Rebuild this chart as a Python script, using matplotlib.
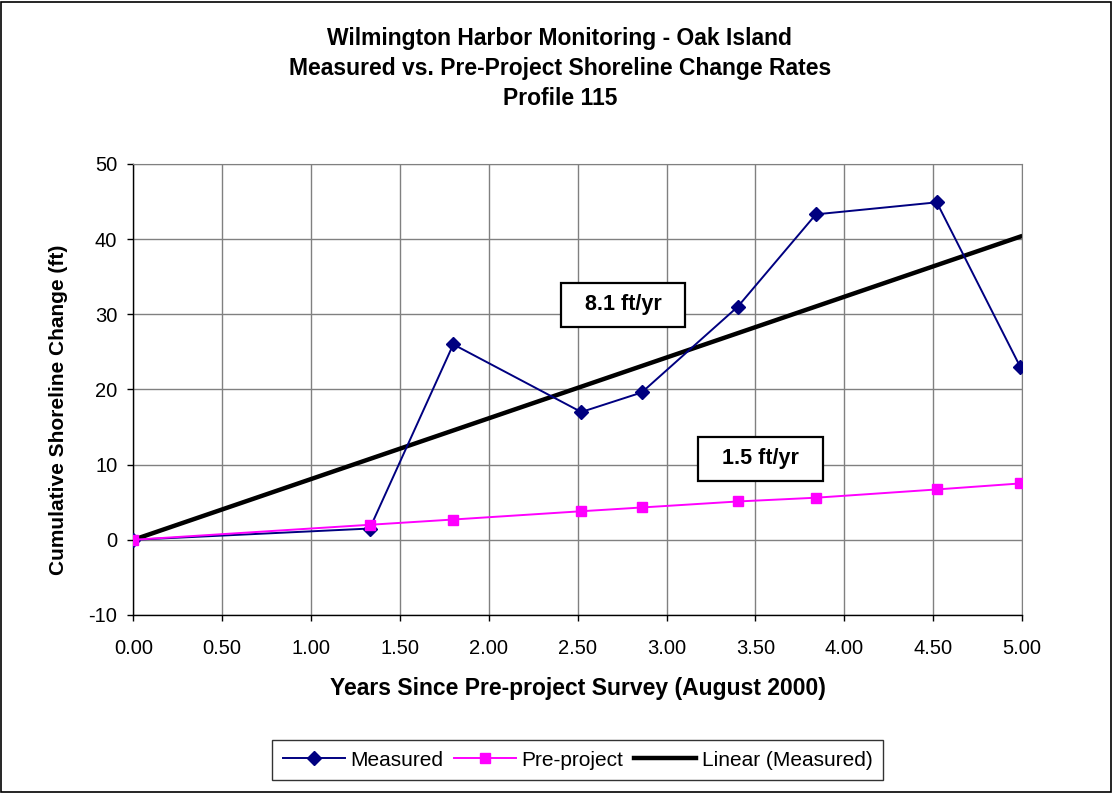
import numpy as np
import matplotlib
matplotlib.use("Agg")
import matplotlib.pyplot as plt
from matplotlib.patches import Rectangle

plt.rcParams['font.family'] = ['Liberation Sans', 'DejaVu Sans']

years = [0.00, 1.33, 1.80, 2.52, 2.86, 3.40, 3.84, 4.52, 4.99]
measured = [0.0, 1.5, 26.0, 17.0, 19.6, 31.0, 43.3, 44.9, 23.0]
preproject = [0.0, 2.0, 2.7, 3.8, 4.3, 5.1, 5.6, 6.7, 7.5]
rate_labels = ["8.1 ft/yr", "1.5 ft/yr"]
xticks = [0.0, 0.5, 1.0, 1.5, 2.0, 2.5, 3.0, 3.5, 4.0, 4.5, 5.0]
yticks = [-10, 0, 10, 20, 30, 40, 50]

x = np.array(years)
y = np.array(measured)
slope = np.sum(x * y) / np.sum(x * x)  # trendline through origin

fig = plt.figure(figsize=(11.13, 7.93), dpi=100)
fig.patches.append(Rectangle((0.001, 0.001), 0.997, 0.997, transform=fig.transFigure,
                             fill=False, edgecolor='black', linewidth=1.2))
ax = fig.add_axes([0.1198, 0.2245, 0.7985, 0.5687])

grid_c = '#808080'
ax.set_xlim(0, 5)
ax.set_ylim(-10, 50)
ax.set_xticks(xticks)
ax.set_yticks(yticks)
ax.set_xticklabels([f"{t:.2f}" for t in xticks])
ax.set_yticklabels([str(t) for t in yticks])
ax.grid(True, color=grid_c, linewidth=1.0)
ax.set_axisbelow(True)
for s in ['top', 'right']:
    ax.spines[s].set_color(grid_c)
for s in ['left', 'bottom']:
    ax.spines[s].set_color('black')
    ax.spines[s].set_linewidth(1.0)
ax.tick_params(direction='out', length=4.5, width=1, labelsize=14.5)
ax.tick_params(axis='x', pad=12.5)
ax.tick_params(axis='y', pad=7)

xs = np.array([0, x.max()])
ax.plot(x, y, color='#000080', marker='D', markersize=7.5, linewidth=1.4, label='Measured', zorder=3)
ax.plot(x, preproject, color='#FF00FF', marker='s', markersize=7.5, linewidth=1.4, label='Pre-project', zorder=4)
ax.plot(xs, slope * xs, color='black', linewidth=3.2, label='Linear (Measured)', zorder=2)

bbox = dict(boxstyle='square,pad=0.55', facecolor='white', edgecolor='black', linewidth=1.6)
ax.text(2.755, 31.25, '  ' + rate_labels[0] + '  ', ha='center', va='center', fontsize=15.5,
        fontweight='bold', bbox=bbox, zorder=6)
ax.text(3.527, 10.77, '  ' + rate_labels[1] + '  ', ha='center', va='center', fontsize=15.5,
        fontweight='bold', bbox=bbox, zorder=6)

ax.set_xlabel('Years Since Pre-project Survey (August 2000)', fontsize=16.5,
              fontweight='bold', labelpad=14)
ax.set_ylabel('Cumulative Shoreline Change (ft)', fontsize=15, fontweight='bold', va='center')
ax.yaxis.set_label_coords(-0.084, 0.4545)

tx = 0.503
fig.text(tx, 0.951, 'Wilmington Harbor Monitoring - Oak Island', ha='center', va='center',
         fontsize=16.5, fontweight='bold')
fig.text(tx, 0.913, 'Measured vs. Pre-Project Shoreline Change Rates', ha='center', va='center',
         fontsize=16.5, fontweight='bold')
fig.text(tx, 0.876, 'Profile 115', ha='center', va='center',
         fontsize=16.5, fontweight='bold')

leg = fig.legend(loc='center', bbox_to_anchor=(0.519, 0.0416), ncol=3, fontsize=15,
                 frameon=True, fancybox=False, edgecolor='black', handlelength=3.0,
                 handletextpad=0.25, columnspacing=0.5, borderpad=0.5)
leg.get_frame().set_linewidth(1.0)

fig.savefig('out.png', dpi=100)
